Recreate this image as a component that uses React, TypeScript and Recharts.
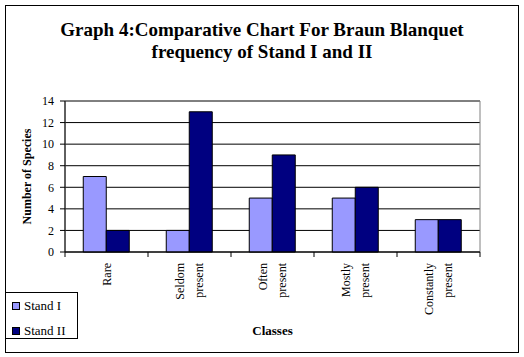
import { BarChart, Bar, XAxis, YAxis, CartesianGrid, Legend, ReferenceArea } from "recharts";

// Braun Blanquet classes and species counts per stand
const classes = ["Rare", "Seldom present", "Often present", "Mostly present", "Constantly present"];
const standI = [7, 2, 5, 5, 3];
const standII = [2, 13, 9, 6, 3];
const yTicks = [0, 2, 4, 6, 8, 10, 12, 14];

const data = classes.map((name, i) => ({ name, "Stand I": standI[i], "Stand II": standII[i] }));

const FONT = "'Liberation Serif', 'Times New Roman', serif";
const W = 524;
const H = 357;
const Y_W = 65;
const X_H = 105;
const margin = { top: 101, right: 44, left: 0, bottom: 0 };
const band = (W - Y_W - margin.right) / classes.length;

// category tick: tick marks sit on the category edges, label rotated and split in two lines
const ClassTick = (props: any) => {
  const { x, y, payload, index } = props;
  const words = String(payload.value).split(" ");
  const gap = 19;
  const off = -((words.length - 1) * gap) / 2;
  return (
    <g>
      <line x1={x - band / 2} y1={y} x2={x - band / 2} y2={y + 5} stroke="#000" />
      {index === classes.length - 1 && (
        <line x1={x + band / 2} y1={y} x2={x + band / 2} y2={y + 5} stroke="#000" />
      )}
      <g transform={`translate(${x},${y + 11}) rotate(-90)`}>
        {words.map((w, i) => (
          <text
            key={i}
            x={0}
            y={off + i * gap}
            textAnchor="end"
            dominantBaseline="central"
            fontFamily={FONT}
            fontSize={12}
            fill="#000"
          >
            {w}
          </text>
        ))}
      </g>
    </g>
  );
};

const LegendBox = (props: any) => {
  const { payload } = props;
  return (
    <div
      style={{
        width: 73,
        height: 47,
        border: "1px solid #000",
        background: "#fff",
        boxSizing: "border-box",
        paddingTop: 4,
      }}
    >
      {payload.map((p: any) => (
        <div
          key={p.value}
          style={{ display: "flex", alignItems: "center", height: 17, marginBottom: 8, fontFamily: FONT, fontSize: 13 }}
        >
          <span
            style={{
              display: "inline-block",
              width: 6,
              height: 6,
              background: p.color,
              border: "1px solid #000",
              marginLeft: 6,
              marginRight: 4,
            }}
          />
          {p.value}
        </div>
      ))}
    </div>
  );
};

export default function App() {
  return (
    <div style={{ position: "absolute", left: 0, top: 0, width: W, height: H, background: "#fff" }}>
      <div
        style={{
          position: "absolute",
          left: 5,
          top: 5,
          width: 514,
          height: 348,
          border: "1px solid #000",
          boxSizing: "border-box",
        }}
      />
      <div
        style={{
          position: "absolute",
          left: 0,
          top: 19,
          width: W,
          textAlign: "center",
          fontFamily: FONT,
          fontWeight: "bold",
          fontSize: 19,
          lineHeight: "22px",
          color: "#000",
        }}
      >
        Graph 4:Comparative Chart For Braun Blanquet
        <br />
        frequency of Stand I and II
      </div>
      <div style={{ position: "absolute", left: 0, top: 0 }}>
        <BarChart width={W} height={H} data={data} margin={margin} barCategoryGap="22%" barGap={0}>
          <CartesianGrid vertical={false} stroke="#000" />
          <ReferenceArea y1={0} y2={14} fill="none" stroke="#808080" ifOverflow="visible" />
          <XAxis
            dataKey="name"
            interval={0}
            tickLine={false}
            tickSize={0}
            tickMargin={0}
            axisLine={{ stroke: "#000" }}
            tick={<ClassTick />}
            label={{
              value: "Classes",
              position: "insideBottom",
              offset: 22,
              fontFamily: FONT,
              fontWeight: "bold",
              fontSize: 13,
              fill: "#000",
            }}
            height={X_H}
          />
          <YAxis
            domain={[0, 14]}
            ticks={yTicks}
            interval={0}
            tickSize={5}
            tickMargin={6}
            axisLine={{ stroke: "#000" }}
            tickLine={{ stroke: "#000" }}
            tick={{ fontFamily: FONT, fontSize: 12, fill: "#000" }}
            width={Y_W}
            label={{
              value: "Number of Species",
              angle: -90,
              position: "insideLeft",
              offset: 27,
              style: { textAnchor: "middle" },
              fontFamily: FONT,
              fontWeight: "bold",
              fontSize: 12,
              fill: "#000",
            }}
          />
          <Legend
            layout="vertical"
            verticalAlign="middle"
            align="center"
            content={<LegendBox />}
            wrapperStyle={{ position: "absolute", left: 5, top: 292, width: 73 }}
          />
          <Bar dataKey="Stand I" fill="#9999FF" stroke="#000" strokeWidth={1} isAnimationActive={false} />
          <Bar dataKey="Stand II" fill="#000080" stroke="#000" strokeWidth={1} isAnimationActive={false} />
        </BarChart>
      </div>
    </div>
  );
}
